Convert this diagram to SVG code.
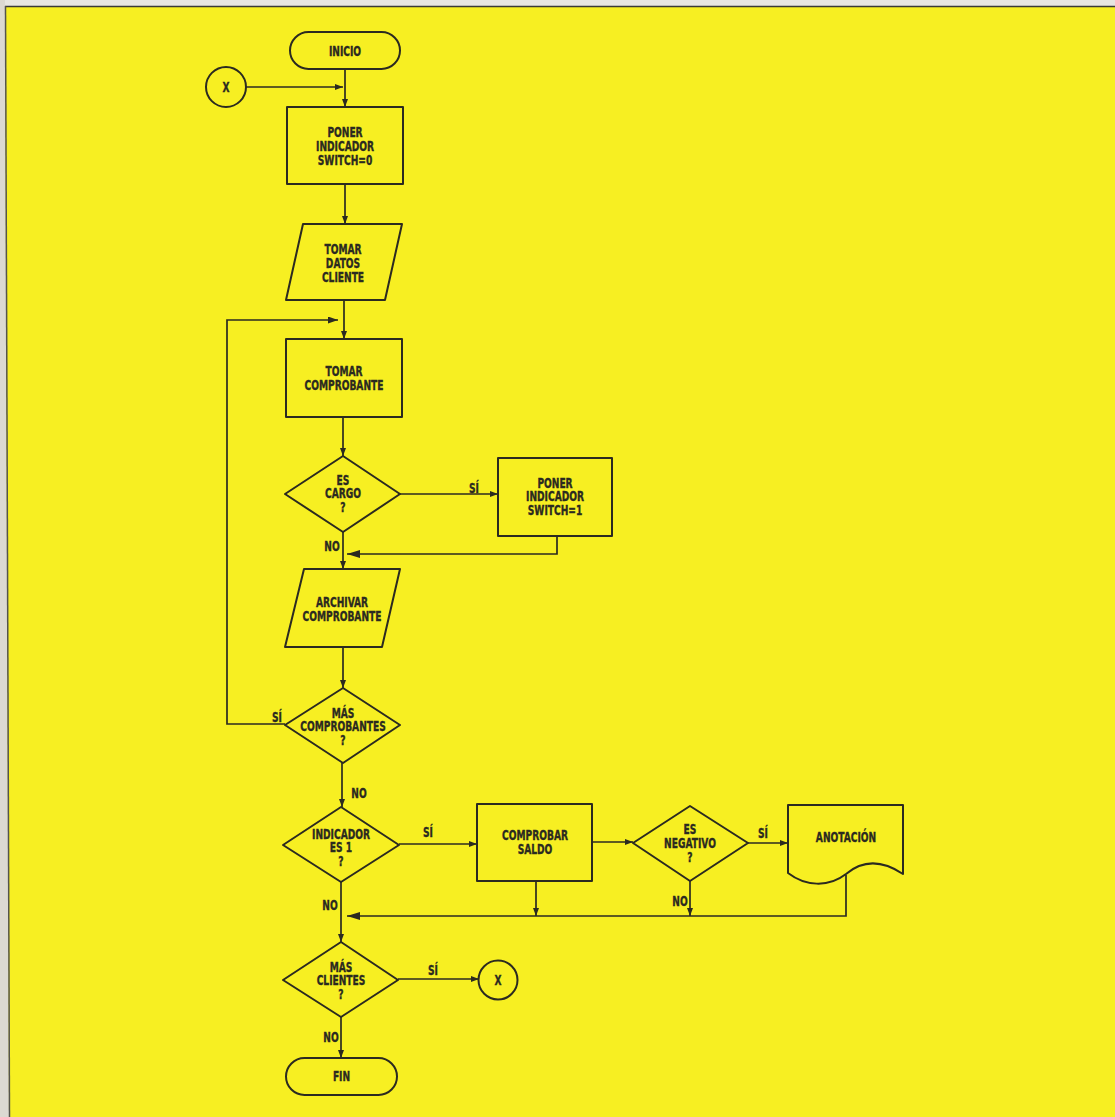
<svg xmlns="http://www.w3.org/2000/svg" width="1115" height="1117" viewBox="0 0 1115 1117">
<style>
.s{fill:none;stroke:#2b2a20;stroke-width:2;stroke-linejoin:round}
.c{fill:none;stroke:#2b2a20;stroke-width:1.7}
.t{font-family:"DejaVu Sans Condensed","DejaVu Sans",sans-serif;font-weight:bold;font-size:13.5px;fill:#2b2a20;stroke:#2b2a20;stroke-width:0.35;text-anchor:middle}
</style>
<defs>
<marker id="a" markerUnits="userSpaceOnUse" markerWidth="10" markerHeight="8" refX="8" refY="3" orient="auto"><path d="M0,0 L8,3 L0,6 z" fill="#2b2a20"/></marker>
<marker id="m" markerUnits="userSpaceOnUse" markerWidth="12" markerHeight="8" refX="10" refY="3.5" orient="auto"><path d="M0,0 L10,3.5 L0,7 z" fill="#2b2a20"/></marker>
<marker id="b" markerUnits="userSpaceOnUse" markerWidth="15" markerHeight="10" refX="13" refY="4" orient="auto"><path d="M0,0 L13,4 L0,8 z" fill="#2b2a20"/></marker>
</defs>
<rect width="1115" height="1117" fill="#f7ef22"/>
<rect width="1115" height="6" fill="#e8e6e1"/>
<polygon points="0,0 5,0 9,1117 0,1117" fill="#dcd9d2"/>
<line x1="5" y1="6.5" x2="1115" y2="6.5" stroke="#3a3a36" stroke-width="1.5"/>
<line x1="5.5" y1="6" x2="9.5" y2="1117" stroke="#55544c" stroke-width="1.5"/>

<g id="connectors">
<line class="c" x1="246" y1="87" x2="343" y2="87" marker-end="url(#a)"/>
<line class="c" x1="345" y1="69" x2="345" y2="107" marker-end="url(#a)"/>
<line class="c" x1="345" y1="184" x2="345" y2="224" marker-end="url(#a)"/>
<line class="c" x1="344" y1="300" x2="344" y2="339" marker-end="url(#a)"/>
<polyline class="c" points="285,724 227,724 227,320 338,320" marker-end="url(#m)"/>
<line class="c" x1="343" y1="417" x2="343" y2="456" marker-end="url(#a)"/>
<line class="c" x1="400" y1="494" x2="498" y2="494" marker-end="url(#a)"/>
<polyline class="c" points="557,536 557,554 347,554" marker-end="url(#b)"/>
<line class="c" x1="343" y1="532" x2="343" y2="569" marker-end="url(#a)"/>
<line class="c" x1="343" y1="647" x2="343" y2="688" marker-end="url(#a)"/>
<line class="c" x1="342" y1="763" x2="342" y2="807" marker-end="url(#a)"/>
<line class="c" x1="399" y1="844" x2="477" y2="844" marker-end="url(#a)"/>
<line class="c" x1="592" y1="842" x2="633" y2="842" marker-end="url(#a)"/>
<line class="c" x1="748" y1="843" x2="788" y2="843" marker-end="url(#a)"/>
<line class="c" x1="536" y1="881" x2="536" y2="916" marker-end="url(#a)"/>
<line class="c" x1="690" y1="881" x2="690" y2="916" marker-end="url(#a)"/>
<polyline class="c" points="846,875 846,916 347,916" marker-end="url(#b)"/>
<line class="c" x1="341" y1="882" x2="341" y2="942" marker-end="url(#a)"/>
<line class="c" x1="398" y1="979" x2="479" y2="979" marker-end="url(#a)"/>
<line class="c" x1="341" y1="1017" x2="341" y2="1058" marker-end="url(#a)"/>
<text class="t" transform="translate(474,493) scale(0.75,1)">SÍ</text>
<text class="t" transform="translate(332,551) scale(0.75,1)">NO</text>
<text class="t" transform="translate(277,722) scale(0.75,1)">SÍ</text>
<text class="t" transform="translate(359,798) scale(0.75,1)">NO</text>
<text class="t" transform="translate(428,837) scale(0.75,1)">SÍ</text>
<text class="t" transform="translate(763,838) scale(0.75,1)">SÍ</text>
<text class="t" transform="translate(680,906) scale(0.75,1)">NO</text>
<text class="t" transform="translate(330,910) scale(0.75,1)">NO</text>
<text class="t" transform="translate(433,975) scale(0.75,1)">SÍ</text>
<text class="t" transform="translate(331,1042) scale(0.75,1)">NO</text>
</g>

<g id="inicio">
<rect class="s" x="290" y="32" width="110" height="37" rx="18.5"/>
<text class="t" transform="translate(345,55.5) scale(0.75,1)">INICIO</text>
</g>
<g id="x-in">
<circle class="s" cx="226" cy="87" r="20"/>
<text class="t" transform="translate(226,92) scale(0.75,1)">X</text>
</g>
<g id="poner0">
<rect class="s" x="287" y="107" width="116" height="77"/>
<text class="t" transform="translate(345,137) scale(0.75,1)"><tspan x="0">PONER</tspan><tspan x="0" dy="14">INDICADOR</tspan><tspan x="0" dy="14">SWITCH=0</tspan></text>
</g>
<g id="datos">
<polygon class="s" points="303,224 402,224 385,300 286,300"/>
<text class="t" transform="translate(343,254) scale(0.75,1)"><tspan x="0">TOMAR</tspan><tspan x="0" dy="14">DATOS</tspan><tspan x="0" dy="14">CLIENTE</tspan></text>
</g>
<g id="tomar">
<rect class="s" x="286" y="339" width="116" height="78"/>
<text class="t" transform="translate(344,376) scale(0.75,1)"><tspan x="0">TOMAR</tspan><tspan x="0" dy="14">COMPROBANTE</tspan></text>
</g>
<g id="cargo">
<polygon class="s" points="343,456 400,494 343,532 285,494"/>
<text class="t" transform="translate(343,484.5) scale(0.75,1)"><tspan x="0">ES</tspan><tspan x="0" dy="14">CARGO</tspan><tspan x="0" dy="14">?</tspan></text>
</g>
<g id="poner1">
<rect class="s" x="498" y="458" width="114" height="78"/>
<text class="t" transform="translate(555,487.5) scale(0.75,1)"><tspan x="0">PONER</tspan><tspan x="0" dy="14">INDICADOR</tspan><tspan x="0" dy="14">SWITCH=1</tspan></text>
</g>
<g id="archivar">
<polygon class="s" points="304,569 400,569 382,647 285,647"/>
<text class="t" transform="translate(342,607) scale(0.75,1)"><tspan x="0">ARCHIVAR</tspan><tspan x="0" dy="14">COMPROBANTE</tspan></text>
</g>
<g id="mascomp">
<polygon class="s" points="343,688 400,725 343,763 285,725"/>
<text class="t" transform="translate(343,717.5) scale(0.75,1)"><tspan x="0">MÁS</tspan><tspan x="0" dy="14">COMPROBANTES</tspan><tspan x="0" dy="14">?</tspan></text>
</g>
<g id="indicador">
<polygon class="s" points="341,807 399,845 341,882 283,845"/>
<text class="t" transform="translate(341,838.5) scale(0.75,1)"><tspan x="0">INDICADOR</tspan><tspan x="0" dy="14">ES 1</tspan><tspan x="0" dy="14">?</tspan></text>
</g>
<g id="saldo">
<rect class="s" x="477" y="804" width="115" height="77"/>
<text class="t" transform="translate(535,840) scale(0.75,1)"><tspan x="0">COMPROBAR</tspan><tspan x="0" dy="14">SALDO</tspan></text>
</g>
<g id="negativo">
<polygon class="s" points="690,806 748,843 690,881 633,843"/>
<text class="t" transform="translate(690,834) scale(0.75,1)"><tspan x="0">ES</tspan><tspan x="0" dy="14">NEGATIVO</tspan><tspan x="0" dy="14">?</tspan></text>
</g>
<g id="anotacion">
<path class="s" d="M788,805 H903 V874 C885,862 865,858 846,874 C828,888 805,886 788,873 Z"/>
<text class="t" transform="translate(846,841.5) scale(0.75,1)">ANOTACIÓN</text>
</g>
<g id="masclientes">
<polygon class="s" points="341,942 398,980 341,1017 283,980"/>
<text class="t" transform="translate(341,971.5) scale(0.75,1)"><tspan x="0">MÁS</tspan><tspan x="0" dy="14">CLIENTES</tspan><tspan x="0" dy="14">?</tspan></text>
</g>
<g id="x-out">
<circle class="s" cx="498" cy="980" r="19.5"/>
<text class="t" transform="translate(498,985) scale(0.75,1)">X</text>
</g>
<g id="fin">
<rect class="s" x="286" y="1058" width="111" height="37" rx="18.5"/>
<text class="t" transform="translate(341.5,1081) scale(0.75,1)">FIN</text>
</g>
</svg>
